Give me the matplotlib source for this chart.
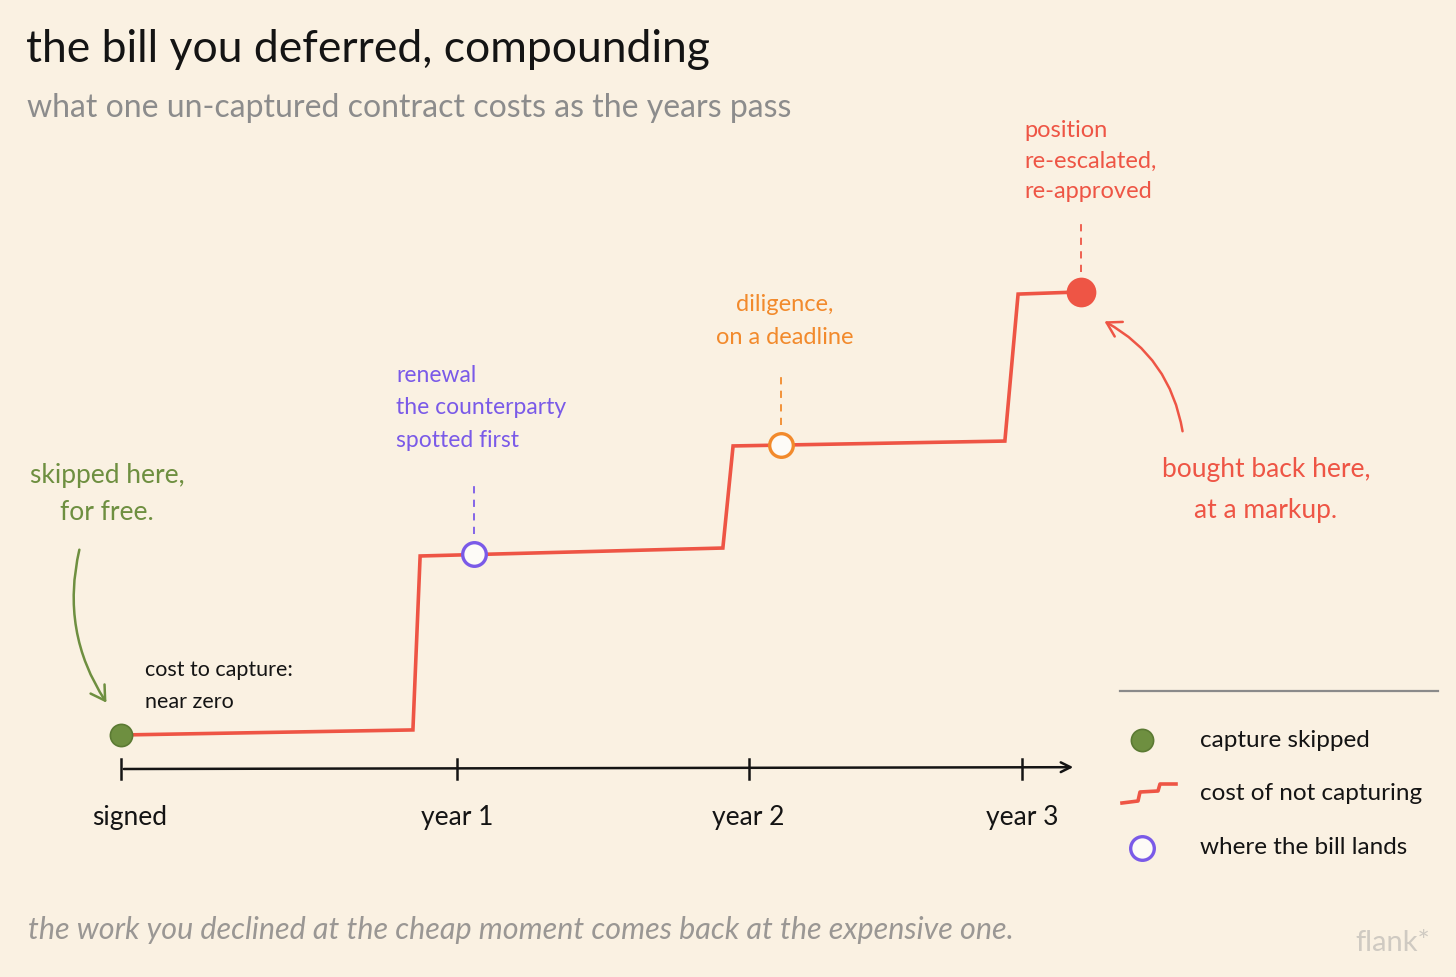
import numpy as np
import matplotlib
matplotlib.use("Agg")
import matplotlib.pyplot as plt
from matplotlib.patches import FancyArrowPatch
from matplotlib.lines import Line2D

W, H = 1456, 978
BG = "#faf1e2"
RED = "#ee5545"
GREEN = "#6e8f40"
GREEN_EDGE = "#5b7a33"
PURPLE = "#7a5ae8"
ORANGE = "#f28a2c"
INK = "#141414"
GREY = "#8c8c8c"

plt.rcParams['font.family'] = ['Lato', 'DejaVu Sans']

# cost path, years on x, relative cost on y (hand drawn, so a little slope on the flats)
path_years = [0.0, 0.972, 0.996, 2.004, 2.038, 2.943, 2.987, 3.196]
path_cost = [0.0, 0.028, 0.989, 1.033, 1.597, 1.624, 2.436, 2.448]

# where the bill lands
event_years = [1.175, 2.198, 3.196]
event_cost = [1.0, 1.602, 2.448]
event_colors = [PURPLE, ORANGE, RED]
event_filled = [False, False, True]
event_labels = ["renewal\nthe counterparty\nspotted first",
                "diligence,\non a deadline",
                "position\nre-escalated,\nre-approved"]

skip_year, skip_cost = 0.0, 0.0

tick_years = [0.0, 1.12, 2.09, 3.0]
tick_labels = ["signed", "year 1", "year 2", "year 3"]

legend_labels = ["capture skipped", "cost of not capturing", "where the bill lands"]

# pixel frame helpers: x=0 years sits at px 121, 300.33 px per year, cost 0 at py 736, 181 px per unit
PX_YEAR, X0 = 300.33, 121
PX_COST, Y0 = 181.0, 736


def fx(px):
    return px / W


def fy(py):
    return 1 - py / H


fig = plt.figure(figsize=(W / 100, H / 100), dpi=100, facecolor=BG)
ax = fig.add_axes([0, 0, 1, 1])
ax.set_facecolor(BG)
ax.set_xlim(-X0 / PX_YEAR, (W - X0) / PX_YEAR)
ax.set_ylim(-(H - Y0) / PX_COST, Y0 / PX_COST)
ax.axis("off")

# timeline axis
axis_y = -34 / PX_COST
ax.annotate("", xy=(3.18, axis_y + 0.01), xytext=(0.0, axis_y),
            arrowprops=dict(arrowstyle="->,head_length=0.7,head_width=0.35", color=INK, lw=1.8))
for tx, tl in zip(tick_years, tick_labels):
    ax.plot([tx, tx], [axis_y - 0.055, axis_y + 0.055], color=INK, lw=1.8)
    ax.text(tx + (0.03 if tl == "signed" else 0.0), axis_y - 0.26, tl, ha="center", va="center",
            fontsize=19, color=INK)

# the step line
ax.plot(path_years, path_cost, color=RED, lw=2.6, solid_joinstyle="miter", zorder=3)

# capture skipped
ax.plot([skip_year], [skip_cost], "o", ms=16, mfc=GREEN, mec=GREEN_EDGE, mew=1.2, zorder=5)

# events, dashed leaders and notes
for ex, ey, c, filled, lab in zip(event_years, event_cost, event_colors, event_filled, event_labels):
    ax.plot([ex], [ey], "o", ms=19 if filled else 17, mfc=c if filled else "#fdfbf7",
            mec=c, mew=2.4, zorder=5)
    ax.plot([ex, ex], [ey + 0.11, ey + 0.40], color=c, lw=1.3, ls=(0, (4, 3.5)), zorder=4)

fig.text(fx(396), fy(408), event_labels[0], color=PURPLE, fontsize=16.5, ha="left", va="center",
         linespacing=1.7)
fig.text(fx(785), fy(321), event_labels[1], color=ORANGE, fontsize=17, ha="center", va="center",
         linespacing=1.7)
fig.text(fx(1024), fy(161), event_labels[2], color=RED, fontsize=17, ha="left", va="center",
         linespacing=1.55)

fig.text(fx(145), fy(686), "cost to capture:\nnear zero", color=INK, fontsize=15.5, ha="left",
         va="center", linespacing=1.75)

fig.text(fx(107), fy(494), "skipped here,\nfor free.", color=GREEN, fontsize=19, ha="center",
         va="center", linespacing=1.65)
fig.text(fx(1266), fy(490), "bought back here,\nat a markup.", color=RED, fontsize=19,
         ha="center", va="center", linespacing=1.8)

# curved arrows
fig.patches.append(FancyArrowPatch((fx(80), fy(548)), (fx(108), fy(706)), transform=fig.transFigure,
                                   connectionstyle="arc3,rad=0.22", color=GREEN, lw=1.8,
                                   arrowstyle="->,head_length=10,head_width=6"))
fig.patches.append(FancyArrowPatch((fx(1183), fy(435)), (fx(1102), fy(321)), transform=fig.transFigure,
                                   connectionstyle="arc3,rad=0.25", color=RED, lw=1.8,
                                   arrowstyle="->,head_length=10,head_width=6"))

# titles
fig.text(fx(26), fy(50), "the bill you deferred, compounding", fontsize=32, color=INK,
         ha="left", va="center")
fig.text(fx(27), fy(108), "what one un-captured contract costs as the years pass", fontsize=23,
         color=GREY, ha="left", va="center")
fig.text(fx(28), fy(930), "the work you declined at the cheap moment comes back at the expensive one.",
         fontsize=22, color="#9a9794", ha="left", va="center", style="italic")
fig.text(fx(1430), fy(943), "flank*", fontsize=21, color="#cfcac2", ha="right", va="center")

# legend, drawn by hand
fig.add_artist(Line2D([fx(1120), fx(1438)], [fy(692), fy(692)], color="#8a8a8a", lw=1.6))
fig.add_artist(Line2D([fx(1142)], [fy(741)], marker="o", ms=16, mfc=GREEN, mec=GREEN_EDGE, mew=1.2))
step_x = [1122, 1138, 1140, 1158, 1160, 1176]
step_y = [804, 802, 793, 792, 785, 785]
fig.add_artist(Line2D([fx(v) for v in step_x], [fy(v) for v in step_y], color=RED, lw=2.6))
fig.add_artist(Line2D([fx(1142)], [fy(849)], marker="o", ms=17, mfc="#fdfbf7", mec=PURPLE, mew=2.4))
for lab, py in zip(legend_labels, [741, 794, 848]):
    fig.text(fx(1200), fy(py), lab, fontsize=17.5, color=INK, ha="left", va="center")

fig.savefig("out.png", dpi=100, facecolor=BG)
